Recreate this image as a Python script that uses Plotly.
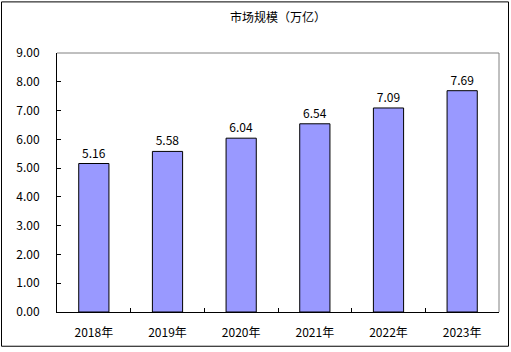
import plotly.graph_objects as go

categories = ["2018年", "2019年", "2020年", "2021年", "2022年", "2023年"]
values = [5.16, 5.58, 6.04, 6.54, 7.09, 7.69]
title_text = "市场规模（万亿）"

W, H = 511, 352
ml, mr, mt, mb = 57, 12, 53, 38
pw, ph = W - ml - mr, H - mt - mb

FONT = "SimSun, 'Noto Sans CJK SC', sans-serif"

fig = go.Figure(go.Bar(
    x=categories, y=values, width=0.41,
    marker=dict(color="#9999FF", line=dict(color="black", width=1)),
    texttemplate="%{y:.2f}", textposition="outside", cliponaxis=False,
    textfont=dict(family=FONT, size=12, color="black"),
))

def px_x(p):
    return (p - ml) / pw

def px_y(p):
    return (H - mb - p) / ph

fig.update_layout(
    width=W, height=H,
    margin=dict(l=ml, r=mr, t=mt, b=mb),
    paper_bgcolor="white", plot_bgcolor="white",
    font=dict(family=FONT, size=12, color="black"),
    showlegend=False,
    title=dict(text=title_text, x=0.5, xref="paper", xanchor="center",
               y=1 - 18 / H, yanchor="middle", font=dict(size=12, family=FONT)),
    xaxis=dict(showline=True, linecolor="black", linewidth=1, ticks="inside",
               tickson="boundaries", ticklen=4, tickcolor="black",
               showgrid=False, ticklabelstandoff=10),
    yaxis=dict(range=[0, 9], dtick=1, tickformat=".2f", showline=True,
               linecolor="black", linewidth=1, ticks="inside", ticklen=4,
               tickcolor="black", showgrid=False, ticklabelstandoff=14,
               zeroline=False),
    shapes=[
        dict(type="line", xref="paper", yref="paper", x0=0, x1=1, y0=1, y1=1,
             line=dict(color="#808080", width=1)),
        dict(type="line", xref="paper", yref="paper", x0=1, x1=1, y0=0, y1=1,
             line=dict(color="#808080", width=1)),
        dict(type="rect", xref="paper", yref="paper",
             x0=px_x(1.5), x1=px_x(508.5), y0=px_y(348.5), y1=px_y(1.5),
             line=dict(color="black", width=1)),
    ],
)

fig.write_html("out.html")
